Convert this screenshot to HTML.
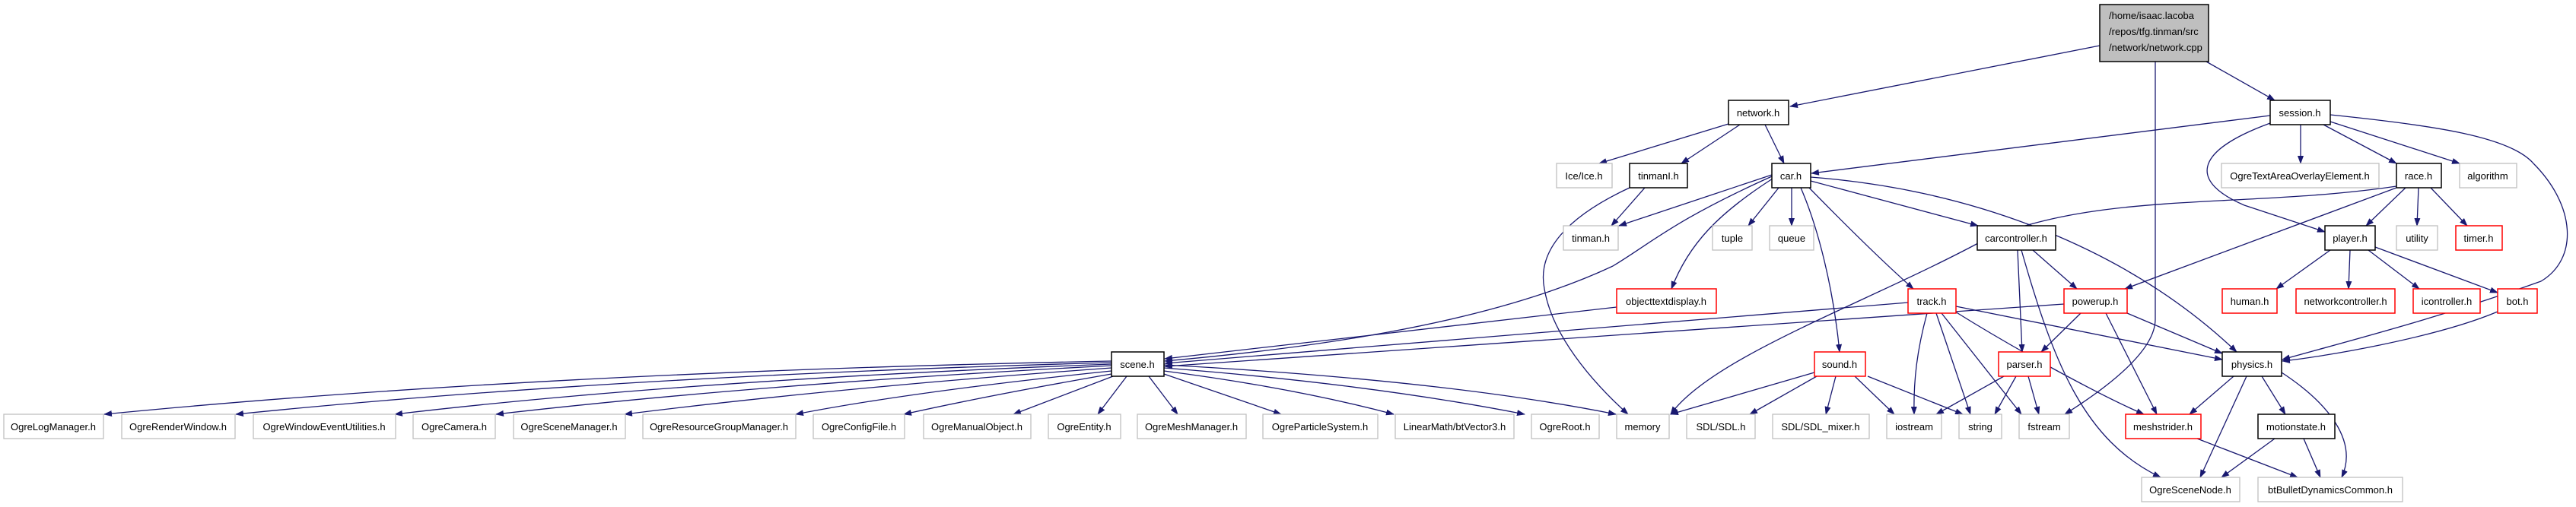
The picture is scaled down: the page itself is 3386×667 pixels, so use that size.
<!DOCTYPE html>
<html><head><meta charset="utf-8"><style>
html,body{margin:0;padding:0;background:#fff;}
svg{display:block;}
text{font-family:"Liberation Sans",sans-serif;font-size:13px;fill:#000;}
.e{fill:none;stroke:#191970;stroke-width:1.3;marker-end:url(#a);}
.n{fill:#fff;stroke:#000;stroke-width:1.5;}
.r{fill:#fff;stroke:#ff0000;stroke-width:1.5;}
.g{fill:#fff;stroke:#bfbfbf;stroke-width:1.3;}
</style></head><body>
<svg width="3386" height="667" viewBox="0 0 3386 667" xmlns="http://www.w3.org/2000/svg">
<defs><marker id="a" markerWidth="11" markerHeight="8" refX="10" refY="4" orient="auto" markerUnits="userSpaceOnUse"><path d="M0,0 L11,4 L0,8 z" fill="#191970"/></marker></defs>
<g>
<path class="e" d="M2760,60 L2353,140"/>
<path class="e" d="M2900,81 L2990,132"/>
<path class="e" d="M2833,81 L2833,420 Q2833,470 2714,545"/>
<path class="e" d="M2272,163 L2102,215"/>
<path class="e" d="M2287,164 L2210,215"/>
<path class="e" d="M2320,164 L2345,215"/>
<path class="e" d="M2162,247 L2118,297"/>
<path class="e" d="M2142,247 C2060,285 2020,330 2030,380 C2040,440 2090,500 2140,545"/>
<path class="e" d="M2329,230 L2128,297"/>
<path class="e" d="M2329,232 C2200,290 2170,320 2120,350 C1950,430 1700,460 1531,475"/>
<path class="e" d="M2330,235 C2260,280 2220,320 2197,380"/>
<path class="e" d="M2338,247 L2298,297"/>
<path class="e" d="M2355,247 L2355,297"/>
<path class="e" d="M2367,247 C2390,300 2410,380 2418,463"/>
<path class="e" d="M2378,247 C2420,290 2470,340 2515,380"/>
<path class="e" d="M2380,238 L2600,297"/>
<path class="e" d="M2380,233 C2600,250 2800,330 2940,463"/>
<path class="e" d="M2984,152 L2381,228"/>
<path class="e" d="M3024,164 L3024,215"/>
<path class="e" d="M3054,164 L3150,215"/>
<path class="e" d="M3063,160 L3233,215"/>
<path class="e" d="M2984,162 C2880,200 2880,240 2950,270 L3056,305"/>
<path class="e" d="M3063,151 C3200,165 3300,180 3330,215 C3385,270 3390,340 3340,370 C3200,420 3100,445 3000,473"/>
<path class="e" d="M3150,245 C2950,275 2750,250 2600,320 C2450,400 2250,470 2196,545"/>
<path class="e" d="M3150,247 L2793,380"/>
<path class="e" d="M3162,247 L3110,297"/>
<path class="e" d="M3179,247 L3177,297"/>
<path class="e" d="M3195,247 L3243,297"/>
<path class="e" d="M3063,329 L2992,380"/>
<path class="e" d="M3089,329 L3087,380"/>
<path class="e" d="M3113,329 L3180,380"/>
<path class="e" d="M3122,325 L3283,385"/>
<path class="e" d="M3283,410 C3200,445 3050,470 3000,475"/>
<path class="e" d="M2125,404 L1531,472"/>
<path class="e" d="M2508,398 L1531,478"/>
<path class="e" d="M2713,400 L1531,482"/>
<path class="e" d="M2672,329 L2730,380"/>
<path class="e" d="M2652,329 L2658,463"/>
<path class="e" d="M2657,329 C2700,480 2740,580 2840,628"/>
<path class="e" d="M2571,403 L2921,473"/>
<path class="e" d="M2533,412 C2520,460 2515,500 2516,545"/>
<path class="e" d="M2545,412 L2590,545"/>
<path class="e" d="M2552,412 L2657,545"/>
<path class="e" d="M2570,410 C2650,460 2760,520 2818,545"/>
<path class="e" d="M2735,412 L2683,463"/>
<path class="e" d="M2796,412 L2921,465"/>
<path class="e" d="M2768,412 L2835,545"/>
<path class="e" d="M2385,490 L2196,545"/>
<path class="e" d="M2388,495 L2300,545"/>
<path class="e" d="M2413,495 L2400,545"/>
<path class="e" d="M2438,495 L2490,545"/>
<path class="e" d="M2455,495 L2580,545"/>
<path class="e" d="M2634,495 L2545,545"/>
<path class="e" d="M2650,495 L2622,545"/>
<path class="e" d="M2666,495 L2680,545"/>
<path class="e" d="M2936,495 L2878,545"/>
<path class="e" d="M2953,495 L2892,628"/>
<path class="e" d="M2973,495 L3004,545"/>
<path class="e" d="M2999,490 C3060,530 3100,580 3078,628"/>
<path class="e" d="M2990,577 L2920,628"/>
<path class="e" d="M3028,577 L3050,628"/>
<path class="e" d="M2888,577 L3020,628"/>
<path class="e" d="M1461,475 Q700,490 137,545"/>
<path class="e" d="M1461,477 Q800,495 310,545"/>
<path class="e" d="M1461,479 Q900,500 519,545"/>
<path class="e" d="M1461,481 Q1000,505 652,545"/>
<path class="e" d="M1461,484 Q1100,510 821,545"/>
<path class="e" d="M1461,488 Q1200,515 1046,545"/>
<path class="e" d="M1461,492 Q1300,520 1188,545"/>
<path class="e" d="M1463,495 L1332,545"/>
<path class="e" d="M1481,495 L1443,545"/>
<path class="e" d="M1510,495 L1548,545"/>
<path class="e" d="M1530,492 L1684,545"/>
<path class="e" d="M1530,488 Q1700,510 1832,545"/>
<path class="e" d="M1530,484 Q1800,505 2004,545"/>
<path class="e" d="M1530,480 Q1900,500 2124,545"/>
</g>
<g>
<rect x="2760" y="6" width="143" height="75" fill="#bfbfbf" stroke="#000" stroke-width="1.5"/>
<text x="2772" y="25">/home/isaac.lacoba</text>
<text x="2772" y="46">/repos/tfg.tinman/src</text>
<text x="2772" y="67">/network/network.cpp</text>
</g>
<g text-anchor="middle">
<rect class="n" x="2272" y="132" width="79" height="32"/><text x="2311" y="153">network.h</text>
<rect class="n" x="2984" y="132" width="79" height="32"/><text x="3023" y="153">session.h</text>
<rect class="g" x="2046" y="215" width="73" height="32"/><text x="2082" y="236">Ice/Ice.h</text>
<rect class="n" x="2142" y="215" width="76" height="32"/><text x="2180" y="236">tinmanI.h</text>
<rect class="n" x="2329" y="215" width="51" height="32"/><text x="2354" y="236">car.h</text>
<rect class="g" x="2920" y="215" width="207" height="32"/><text x="3023" y="236">OgreTextAreaOverlayElement.h</text>
<rect class="n" x="3150" y="215" width="59" height="32"/><text x="3179" y="236">race.h</text>
<rect class="g" x="3233" y="215" width="75" height="32"/><text x="3270" y="236">algorithm</text>
<rect class="g" x="2055" y="297" width="72" height="32"/><text x="2091" y="318">tinman.h</text>
<rect class="g" x="2251" y="297" width="52" height="32"/><text x="2277" y="318">tuple</text>
<rect class="g" x="2326" y="297" width="58" height="32"/><text x="2355" y="318">queue</text>
<rect class="n" x="2599" y="297" width="103" height="32"/><text x="2650" y="318">carcontroller.h</text>
<rect class="n" x="3056" y="297" width="66" height="32"/><text x="3089" y="318">player.h</text>
<rect class="g" x="3150" y="297" width="54" height="32"/><text x="3177" y="318">utility</text>
<rect class="r" x="3228" y="297" width="61" height="32"/><text x="3258" y="318">timer.h</text>
<rect class="r" x="2125" y="380" width="131" height="32"/><text x="2190" y="401">objecttextdisplay.h</text>
<rect class="r" x="2508" y="380" width="63" height="32"/><text x="2539" y="401">track.h</text>
<rect class="r" x="2713" y="380" width="83" height="32"/><text x="2754" y="401">powerup.h</text>
<rect class="r" x="2921" y="380" width="72" height="32"/><text x="2957" y="401">human.h</text>
<rect class="r" x="3018" y="380" width="130" height="32"/><text x="3083" y="401">networkcontroller.h</text>
<rect class="r" x="3172" y="380" width="88" height="32"/><text x="3216" y="401">icontroller.h</text>
<rect class="r" x="3283" y="380" width="52" height="32"/><text x="3309" y="401">bot.h</text>
<rect class="n" x="1461" y="463" width="69" height="32"/><text x="1495" y="484">scene.h</text>
<rect class="r" x="2385" y="463" width="67" height="32"/><text x="2418" y="484">sound.h</text>
<rect class="r" x="2627" y="463" width="68" height="32"/><text x="2661" y="484">parser.h</text>
<rect class="n" x="2921" y="463" width="78" height="32"/><text x="2960" y="484">physics.h</text>
<rect class="g" x="5" y="545" width="131" height="32"/><text x="70" y="566">OgreLogManager.h</text>
<rect class="g" x="160" y="545" width="149" height="32"/><text x="234" y="566">OgreRenderWindow.h</text>
<rect class="g" x="333" y="545" width="187" height="32"/><text x="426" y="566">OgreWindowEventUtilities.h</text>
<rect class="g" x="543" y="545" width="108" height="32"/><text x="597" y="566">OgreCamera.h</text>
<rect class="g" x="675" y="545" width="147" height="32"/><text x="748" y="566">OgreSceneManager.h</text>
<rect class="g" x="845" y="545" width="201" height="32"/><text x="945" y="566">OgreResourceGroupManager.h</text>
<rect class="g" x="1069" y="545" width="120" height="32"/><text x="1129" y="566">OgreConfigFile.h</text>
<rect class="g" x="1214" y="545" width="141" height="32"/><text x="1284" y="566">OgreManualObject.h</text>
<rect class="g" x="1378" y="545" width="95" height="32"/><text x="1425" y="566">OgreEntity.h</text>
<rect class="g" x="1495" y="545" width="143" height="32"/><text x="1566" y="566">OgreMeshManager.h</text>
<rect class="g" x="1660" y="545" width="151" height="32"/><text x="1735" y="566">OgreParticleSystem.h</text>
<rect class="g" x="1834" y="545" width="156" height="32"/><text x="1912" y="566">LinearMath/btVector3.h</text>
<rect class="g" x="2013" y="545" width="89" height="32"/><text x="2057" y="566">OgreRoot.h</text>
<rect class="g" x="2125" y="545" width="69" height="32"/><text x="2159" y="566">memory</text>
<rect class="g" x="2217" y="545" width="90" height="32"/><text x="2262" y="566">SDL/SDL.h</text>
<rect class="g" x="2330" y="545" width="127" height="32"/><text x="2393" y="566">SDL/SDL_mixer.h</text>
<rect class="g" x="2480" y="545" width="72" height="32"/><text x="2516" y="566">iostream</text>
<rect class="g" x="2575" y="545" width="56" height="32"/><text x="2603" y="566">string</text>
<rect class="g" x="2654" y="545" width="66" height="32"/><text x="2687" y="566">fstream</text>
<rect class="r" x="2794" y="545" width="99" height="32"/><text x="2843" y="566">meshstrider.h</text>
<rect class="n" x="2968" y="545" width="101" height="32"/><text x="3018" y="566">motionstate.h</text>
<rect class="g" x="2815" y="628" width="129" height="32"/><text x="2879" y="649">OgreSceneNode.h</text>
<rect class="g" x="2968" y="628" width="190" height="32"/><text x="3063" y="649">btBulletDynamicsCommon.h</text>
</g>
</svg>
</body></html>
